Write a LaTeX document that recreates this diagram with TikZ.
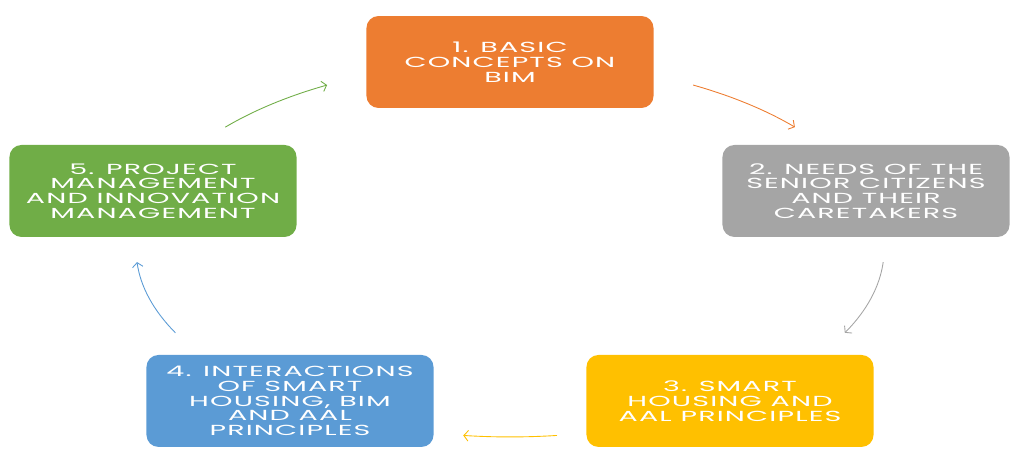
\documentclass[tikz,border=0pt]{standalone}
\usepackage{fontspec}
\setmainfont{Poppins}[LetterSpace=4]
\usetikzlibrary{arrows.meta}

\definecolor{bimorange}{HTML}{ED7D31}
\definecolor{bimgrey}{HTML}{A5A5A5}
\definecolor{bimyellow}{HTML}{FFC000}
\definecolor{bimblue}{HTML}{5B9BD5}
\definecolor{bimgreen}{HTML}{70AD47}

\begin{document}
\begin{tikzpicture}[x=0.010204cm, y=0.02cm, xscale=1.96, transform shape,
    phase/.style={rectangle, rounded corners=0.24cm, fill=#1, text=white,
      minimum width=2.93cm, minimum height=1.84cm, inner sep=0pt, align=center,
      font=\fontsize{8.3}{8.4}\selectfont},
    link/.style={draw=#1, line width=0.5pt, -{Straight Barb[length=2.5pt, width=6pt]}}]

  \useasboundingbox (0,0) rectangle (1024,464);
  \coordinate (o) at (510,215);

  \node[phase=bimorange] (basics) at (510,402) {1. BASIC\\CONCEPTS ON\\BIM};
  \node[phase=bimgrey] (needs) at (866,273) {2. NEEDS OF THE\\SENIOR CITIZENS\\AND THEIR\\CARETAKERS};
  \node[phase=bimyellow] (smart) at (730,63) {3. SMART\\HOUSING AND\\AAL PRINCIPLES};
  \node[phase=bimblue] (interact) at (290,63) {4. INTERACTIONS\\OF SMART\\HOUSING, BIM\\AND AAL\\PRINCIPLES};
  \node[phase=bimgreen] (manage) at (153,273) {5. PROJECT\\MANAGEMENT\\AND INNOVATION\\MANAGEMENT};

  % arcs of the cycle
  \draw[link=bimorange] (o) ++(60.7:374 and 188) arc[start angle=60.7, end angle=40.4, x radius=374, y radius=188];
  \draw[link=bimgrey] (o) ++(-4:374 and 188) arc[start angle=-4, end angle=-26.5, x radius=374, y radius=188];
  \draw[link=bimyellow] (o) ++(-82.8:374 and 188) arc[start angle=-82.8, end angle=-97.2, x radius=374, y radius=188];
  \draw[link=bimblue] (o) ++(206.5:374 and 188) arc[start angle=206.5, end angle=184, x radius=374, y radius=188];
  \draw[link=bimgreen] (o) ++(139.6:374 and 188) arc[start angle=139.6, end angle=119.3, x radius=374, y radius=188];
\end{tikzpicture}
\end{document}
